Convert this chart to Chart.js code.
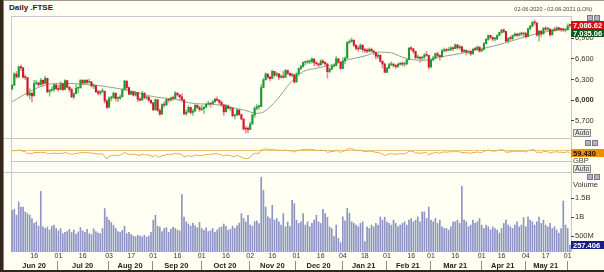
<!DOCTYPE html>
<html>
<head>
<meta charset="utf-8">
<script src="https://cdn.jsdelivr.net/npm/chart.js@4.4.0/dist/chart.umd.min.js"></script>
<style>
  body { margin: 0; background: #fffff4; }
  #wrap { position: relative; width: 604px; height: 272px; overflow: hidden; background: #fffff4; font-family: "Liberation Sans", Arial, sans-serif; }
  canvas { position: absolute; left: 0; }
  .ln { position: absolute; background: #c6c6d2; }
  .txt { position: absolute; white-space: nowrap; line-height: 1; }
  .auto { position: absolute; font-size: 7px; color: #333; border: 1px solid #8a8a8a; background: #ececec; line-height: 6px; padding: 0 1px; }
  .ico { position: absolute; width: 4px; height: 4px; background: #b4b2c0; border: 1px solid #7a7888; }
</style>
</head>
<body>
<div id="wrap">
  <div class="ln" style="left:0;top:0;width:604px;height:1px;background:#9c968c"></div>
  <div class="ln" style="left:0;top:0;width:3px;height:272px;background:#33261b"></div>
  <div class="ln" style="left:3px;top:0;width:1px;height:272px;background:#8a8580"></div>
  <div class="ln" style="left:0;top:270px;width:604px;height:2px;background:#33261b"></div>
  <div class="ln" style="left:11px;top:16px;width:560px;height:1px"></div>
  <div class="ln" style="left:11px;top:16px;width:1px;height:236px"></div>
  <div class="ln" style="left:571px;top:16px;width:1px;height:236px"></div>
  <div class="ln" style="left:4px;top:138px;width:567px;height:1px"></div>
  <div class="ln" style="left:4px;top:172px;width:567px;height:1px"></div>

  <canvas id="main" width="604" height="122" style="top:16px"></canvas>
  <canvas id="rsi" width="604" height="34" style="top:138px"></canvas>
  <canvas id="vol" width="604" height="100" style="top:172px"></canvas>

  <div class="txt" style="left:9px;top:4px;font-size:8px;font-weight:bold;color:#222">Daily .FTSE</div>
  <div class="txt" style="right:12px;top:7px;font-size:5.5px;color:#444">02-06-2020 - 02-06-2021 (LON)</div>
  <div class="ico" style="left:587px;top:15px"></div><div class="ico" style="left:594px;top:15px"></div>
  <div class="auto" style="left:573px;top:129px">Auto</div>
  <div class="ico" style="left:585px;top:140px"></div><div class="ico" style="left:592px;top:140px"></div>
  <div class="txt" style="left:573px;top:157px;font-size:7.5px;color:#444">GBP</div>
  <div class="auto" style="left:573px;top:165px">Auto</div>
  <div class="ico" style="left:587px;top:174px"></div><div class="ico" style="left:594px;top:174px"></div>
  <div class="txt" style="left:573px;top:181px;font-size:7.5px;color:#333">Volume</div>
</div>
<script>
// trading calendar (LSE)
const startDate = '2020-06-02';
const endDate = '2021-06-02';
const holidays = ['2020-08-31','2020-12-25','2020-12-28','2021-01-01','2021-04-02','2021-04-05','2021-05-03','2021-05-31'];
const monthNames = ['Jan','Feb','Mar','Apr','May','Jun','Jul','Aug','Sep','Oct','Nov','Dec'];

// daily OHLC (index points)
const opens = [
 6166,6220,6382,6341,6484,6473,6335,6329,6077,6105,6064,6243,6253,6224,6292,6245,6320,6124,6147,6159,6225,
 6170,6157,6240,6157,6286,6190,6157,6050,6095,6176,6180,6293,6250,6290,6261,6269,6207,6211,6124,6104,6129,6132,5990,
 5898,6032,6036,6104,6027,6032,6050,6154,6280,6186,6090,6127,6076,6112,6014,6002,6104,6037,6045,6000,
 5964,5862,6009,5851,5800,5937,5931,6012,6003,6032,6026,6105,6079,6050,6007,5804,5829,5899,5823,5843,5927,5897,
 5866,5880,5902,5942,5950,5946,5978,6017,6001,5970,5935,5832,5920,5884,5889,5776,5786,5860,5792,5729,5583,5582,
 5577,5655,5786,5883,5906,5910,6186,6297,6382,6339,6316,6421,6365,6385,6334,6351,6334,6433,6391,6363,6368,
 6266,6385,6463,6490,6550,6555,6559,6565,6600,6547,6531,6513,6570,6551,6529,6416,6454,6496,6502,6603,6555,
 6461,6572,6612,6842,6857,6874,6799,6755,6746,6802,6736,6720,6713,6741,6716,6696,6639,6655,6568,6527,
 6407,6467,6517,6524,6504,6489,6524,6532,6524,6528,6590,6756,6748,6711,6618,6625,6612,6626,6659,6652,
 6483,6588,6614,6676,6651,6631,6719,6730,6725,6737,6761,6750,6804,6763,6779,6709,6726,6699,6713,6674,6741,6737,6772,
 6714,6737,6823,6885,6942,6916,6890,6890,6940,6984,7020,7000,6860,6896,6895,6939,6963,6945,6964,6962,
 6970,6924,7039,7077,7130,7124,6948,7004,6963,7044,7033,7035,6950,7020,7018,7052,7030,7027,7020,
 7023,7100
];
const highs = [
 6230,6400,6420,6500,6511,6473,6370,6329,6170,6105,6290,6290,6260,6320,6292,6350,6320,6160,6200,6240,6240,
 6220,6270,6250,6300,6286,6200,6175,6110,6230,6190,6300,6293,6300,6300,6310,6269,6240,6211,6150,6140,6170,6132,6010,
 6050,6060,6120,6104,6050,6080,6170,6290,6280,6190,6140,6130,6130,6112,6040,6130,6110,6070,6070,6010,
 5970,6020,6010,5880,5950,5980,6030,6030,6050,6060,6130,6110,6079,6090,6007,5860,5920,5899,5870,5950,5940,5920,
 5930,5910,5960,5990,5960,6000,6030,6050,6010,5990,5935,5940,5930,5910,5889,5800,5880,5860,5800,5729,5620,5620,
 5690,5800,5910,5940,5930,6230,6320,6400,6382,6345,6440,6421,6410,6385,6370,6420,6450,6440,6400,6390,6380,
 6400,6470,6510,6560,6570,6580,6590,6620,6600,6560,6540,6590,6590,6560,6529,6470,6510,6530,6640,6610,6560,
 6620,6630,6850,6880,6905,6874,6810,6790,6820,6802,6760,6750,6760,6760,6730,6700,6680,6655,6570,6540,
 6480,6540,6560,6540,6520,6540,6550,6560,6550,6600,6770,6780,6750,6711,6660,6630,6640,6680,6710,6652,
 6600,6640,6690,6700,6660,6740,6760,6750,6770,6780,6770,6820,6810,6800,6779,6740,6730,6720,6713,6750,6770,6790,6780,
 6760,6840,6900,6950,6942,6916,6910,6950,6990,7030,7040,7000,6910,6930,6950,6980,6970,6980,6990,6990,
 6990,7050,7090,7150,7165,7124,7020,7010,7060,7070,7060,7035,7030,7060,7070,7060,7050,7050,7040,
 7110,7110
];
const lows = [
 6150,6215,6320,6330,6430,6320,6300,6060,6020,5977,6064,6230,6190,6224,6200,6245,6110,6060,6130,6130,6150,
 6130,6157,6140,6157,6180,6120,6040,6020,6095,6110,6180,6220,6240,6230,6250,6190,6170,6110,6080,6080,6110,5960,5880,
 5898,5990,6030,5990,5980,6010,6050,6150,6160,6080,6080,6060,6060,5980,5990,6002,6020,6010,5980,5950,
 5850,5862,5840,5780,5800,5900,5931,5970,5990,6000,6026,6060,6000,5990,5790,5780,5829,5800,5780,5843,5880,5840,
 5850,5810,5890,5930,5900,5946,5970,5990,5940,5910,5780,5832,5870,5850,5760,5730,5786,5780,5720,5570,5526,5526,
 5577,5655,5750,5860,5870,5910,6186,6297,6310,6280,6316,6340,6350,6300,6320,6320,6334,6370,6350,6340,6250,
 6266,6360,6440,6480,6510,6530,6530,6540,6500,6510,6480,6513,6530,6490,6320,6400,6440,6480,6502,6540,6450,
 6461,6530,6612,6820,6840,6780,6730,6710,6740,6700,6690,6690,6700,6700,6660,6600,6610,6550,6470,6400,
 6400,6460,6500,6480,6460,6480,6510,6500,6490,6520,6590,6720,6680,6600,6600,6550,6570,6600,6640,6455,
 6483,6570,6600,6630,6580,6631,6700,6700,6720,6720,6720,6750,6740,6740,6690,6690,6660,6680,6650,6674,6720,6737,6700,
 6714,6737,6823,6870,6890,6860,6860,6880,6940,6970,6980,6850,6830,6870,6880,6930,6920,6930,6940,6920,
 6900,6924,7020,7070,7100,6930,6860,6920,6963,7010,7000,6930,6950,7000,7010,7010,7000,7000,6990,
 7023,7060
];
const closes = [
 6220,6382,6341,6484,6473,6335,6329,6077,6105,6064,6243,6253,6224,6292,6245,6320,6124,6147,6159,6225,6170,
 6157,6240,6157,6286,6190,6157,6050,6095,6176,6180,6293,6250,6290,6261,6269,6207,6211,6124,6104,6129,6132,5990,5898,
 6032,6036,6104,6027,6032,6050,6154,6280,6186,6090,6127,6076,6112,6014,6002,6104,6037,6045,6000,5964,
 5862,6009,5851,5800,5937,5931,6012,6003,6032,6026,6105,6079,6050,6007,5804,5829,5899,5823,5843,5927,5897,5866,
 5880,5902,5942,5950,5946,5978,6017,6001,5970,5935,5832,5920,5884,5889,5776,5786,5860,5792,5729,5583,5582,5577,
 5655,5786,5883,5906,5910,6186,6297,6382,6339,6316,6421,6365,6385,6334,6351,6334,6433,6391,6363,6368,6266,
 6385,6463,6490,6550,6555,6559,6565,6600,6547,6531,6513,6570,6551,6529,6416,6454,6496,6502,6603,6555,6461,
 6572,6612,6842,6857,6874,6799,6755,6746,6802,6736,6720,6713,6741,6716,6696,6639,6655,6568,6527,6407,
 6467,6517,6524,6504,6489,6524,6532,6524,6528,6590,6756,6748,6711,6618,6625,6612,6626,6659,6652,6483,
 6588,6614,6676,6651,6631,6719,6730,6725,6737,6761,6750,6804,6763,6779,6709,6726,6699,6713,6674,6741,6737,6772,6714,
 6737,6823,6885,6942,6916,6890,6890,6940,6984,7020,7000,6860,6896,6895,6939,6963,6945,6964,6962,6970,
 6924,7039,7077,7130,7124,6948,7004,6963,7044,7033,7035,6950,7020,7018,7052,7030,7027,7020,7023,
 7080,7086.62
];

// moving average at these day indexes
const maIdx = [0,10,15,21,31,37,43,50,58,64,74,80,86,90,99,105,111,114,120,126,132,138,146,152,160,166,172,177,186,195,204,214,222,234,240,246,253];
const maVal = [5980,6160,6222,6247,6237,6222,6198,6160,6102,6053,6015,5966,5947,5945,5899,5860,5812,5830,6005,6247,6416,6465,6523,6586,6644,6700,6690,6625,6580,6634,6683,6755,6818,6934,6982,7011,7035.06];

// oscillator panel
const rsi = [
 67,69,68,70,69,65,64,57,58,56,61,61,60,62,60,62,56,57,57,59,57,
 57,59,57,61,58,57,54,55,58,58,61,60,61,60,60,58,58,56,55,56,56,45,36,
 47,48,52,49,50,51,56,61,57,53,55,53,55,50,50,55,52,53,51,49,
 45,52,45,43,50,50,54,53,55,54,58,56,55,53,44,46,50,46,47,52,50,49,
 50,51,53,54,53,55,57,56,54,52,47,52,50,50,45,46,50,47,44,38,38,38,
 44,52,57,58,58,70,73,75,72,71,74,70,71,68,69,68,71,68,67,67,62,
 67,69,70,72,72,72,72,73,70,69,68,70,69,68,61,63,65,65,69,66,61,
 66,67,74,75,75,71,69,68,70,66,65,65,66,65,64,61,62,57,55,49,
 53,56,56,55,54,56,56,56,56,59,66,66,64,59,59,58,59,61,60,51,
 57,58,61,60,58,62,63,62,63,64,63,66,63,64,60,61,59,60,58,61,61,63,60,
 61,65,68,70,68,66,66,68,70,72,70,61,63,63,65,66,65,66,65,66,
 62,68,69,72,71,60,63,60,65,64,64,58,62,62,64,62,62,61,61,
 64,59.43
];
const rsiLevels = [70, 30];

// volume, millions of shares
const volumes = [
 1184,1210,1052,1402,1270,1270,1139,1097,1052,965,834,876,760,1683,745,700,740,660,760,790,700,
 640,700,560,600,620,680,590,660,550,610,720,640,600,680,560,540,690,620,580,560,700,1228,1000,
 920,860,780,700,620,600,650,760,560,600,540,500,480,520,500,480,520,470,500,600,
 921,1052,760,740,620,700,720,600,680,740,700,660,640,1597,1000,880,820,760,840,780,720,860,
 700,650,720,620,640,700,600,660,720,740,820,760,650,680,760,700,780,840,1097,965,876,1050,
 790,760,880,900,830,2060,1710,1270,1007,965,1315,921,965,876,790,1097,745,870,760,1447,1360,
 921,834,876,1097,790,876,745,834,921,1050,876,834,1210,1097,1000,745,700,483,790,440,325,
 1007,900,1237,1105,876,834,790,745,834,876,350,745,700,790,745,834,790,1007,921,1000,
 876,834,790,921,834,745,790,834,876,790,921,965,876,921,1007,876,1139,1139,965,1270,
 921,876,965,834,921,745,700,700,660,745,876,876,921,834,1815,921,876,745,790,921,834,876,965,
 790,700,790,745,660,745,700,660,580,700,834,921,790,745,700,790,876,745,790,990,
 745,1007,921,876,790,876,1000,834,921,790,745,834,700,745,660,580,700,1430,790,
 701,257.406
];

const priceTicks = [5700, 6000, 6300, 6600, 6900];
const volumeTicks = [500, 1000, 1500];

// build the trading-day categories
const dates = [];
for (let d = new Date(startDate + 'T00:00:00Z'); d <= new Date(endDate + 'T00:00:00Z'); d.setUTCDate(d.getUTCDate() + 1)) {
  const wd = d.getUTCDay();
  const s = d.toISOString().slice(0, 10);
  if (wd !== 0 && wd !== 6 && !holidays.includes(s)) dates.push(s);
}
if (dates.length !== closes.length) console.error('length mismatch', dates.length, closes.length);

// day labels: first trading day of month and first on/after the 16th
const dayLabels = dates.map((s, i) => {
  if (i === 0) return '';
  const p = dates[i - 1];
  const day = +s.slice(8, 10);
  if (s.slice(0, 7) !== p.slice(0, 7)) return s.slice(8, 10);
  if (day >= 16 && +p.slice(8, 10) < 16) return s.slice(8, 10);
  return '';
});
const months = [];
dates.forEach((s, i) => {
  const key = s.slice(0, 7);
  if (!months.length || months[months.length - 1].key !== key) months.push({ key: key, first: i, last: i });
  else months[months.length - 1].last = i;
});

const FONT = '"Liberation Sans", Arial, sans-serif';
const upBody = '#1f9a2a', downBody = '#d2142c';
const upWick = '#86c48a', downWick = '#e8909c';
const isUp = closes.map((c, i) => c >= opens[i]);

const baseOpts = {
  responsive: false,
  animation: false,
  events: [],
  plugins: { legend: { display: false }, tooltip: { enabled: false } }
};

// no label overhang padding, so the plot fills its panel exactly
const noPad = s => { s.paddingTop = 0; s.paddingBottom = 0; s.paddingLeft = 0; s.paddingRight = 0; };

const rightAxis = (min, max, ticks, fmt) => ({
  position: 'right',
  min: min, max: max,
  afterBuildTicks: s => { s.ticks = ticks.map(v => ({ value: v })); },
  afterFit: s => { s.width = 33; noPad(s); },
  grid: { drawOnChartArea: false, tickLength: 3, color: '#444' },
  border: { display: false },
  ticks: {
    padding: 1, color: '#333',
    font: c => ({ family: FONT, size: 7.5, weight: (c.tick && c.tick.value === 6000) ? 'bold' : 'normal' }),
    callback: fmt
  }
});

function valueBox(ctx, y, text, bg, fg) {
  ctx.save();
  ctx.fillStyle = bg;
  ctx.fillRect(571, Math.round(y - 4), 33, 8);
  ctx.fillStyle = fg;
  ctx.font = 'bold 7.5px ' + FONT;
  ctx.textAlign = 'left';
  ctx.textBaseline = 'middle';
  ctx.fillText(text, 573, Math.round(y - 4) + 4.5);
  ctx.restore();
}

// price chart
const priceBoxes = {
  id: 'priceBoxes',
  afterDraw(chart) {
    const y = chart.scales.y;
    const last = closes[closes.length - 1];
    const ry = y.getPixelForValue(last);
    const gy = Math.max(y.getPixelForValue(maVal[maVal.length - 1]), ry + 8);
    chart.ctx.clearRect(571, ry - 4, 33, 16);
    valueBox(chart.ctx, ry, last.toLocaleString('en-US', { minimumFractionDigits: 2 }), '#d80f14', '#fff');
    valueBox(chart.ctx, gy, maVal[maVal.length - 1].toLocaleString('en-US', { minimumFractionDigits: 2 }), '#0c5a1c', '#fff');
  }
};

new Chart(document.getElementById('main'), {
  type: 'bar',
  data: {
    labels: dates,
    datasets: [
      { type: 'line', data: maIdx.map((k, j) => ({ x: dates[k], y: maVal[j] })), borderColor: '#8aa68a', borderWidth: 1, pointRadius: 0, cubicInterpolationMode: 'monotone', order: 3 },
      { data: lows.map((l, i) => [l, highs[i]]), backgroundColor: isUp.map(u => u ? upWick : downWick), barThickness: 1, grouped: false, order: 2 },
      { data: opens.map((o, i) => [o, closes[i]]), backgroundColor: isUp.map(u => u ? upBody : downBody), barThickness: 1.4, minBarLength: 1, grouped: false, order: 1 }
    ]
  },
  options: Object.assign({}, baseOpts, {
    layout: { padding: { left: 11, right: 0, top: 0, bottom: 0 }, autoPadding: false },
    scales: {
      x: { display: false, offset: true },
      y: rightAxis(5453, 7224, priceTicks, v => v.toLocaleString('en-US'))
    }
  }),
  plugins: [priceBoxes]
});

// oscillator chart
const rsiDeco = {
  id: 'rsiDeco',
  beforeDatasetsDraw(chart) {
    const { ctx, chartArea } = chart;
    const y = chart.scales.y;
    ctx.save();
    ctx.strokeStyle = '#efc57a';
    ctx.lineWidth = 1;
    rsiLevels.forEach(v => {
      const py = Math.round(y.getPixelForValue(v)) + 0.5;
      ctx.beginPath(); ctx.moveTo(chartArea.left, py); ctx.lineTo(chartArea.right, py); ctx.stroke();
    });
    ctx.restore();
  },
  afterDraw(chart) {
    const v = rsi[rsi.length - 1];
    valueBox(chart.ctx, chart.scales.y.getPixelForValue(v), v.toFixed(3), '#f08c00', '#111');
  }
};

new Chart(document.getElementById('rsi'), {
  type: 'line',
  data: { labels: dates, datasets: [{ data: rsi, borderColor: '#d6ae5c', borderWidth: 1, pointRadius: 0, tension: 0 }] },
  options: Object.assign({}, baseOpts, {
    layout: { padding: { left: 11, right: 33, top: 0, bottom: 0 }, autoPadding: false },
    scales: {
      x: { display: false, offset: true },
      y: { display: false, min: -12, max: 115 }
    }
  }),
  plugins: [rsiDeco]
});

// volume chart with the date axis
const dateRow = {
  id: 'dateRow',
  afterDraw(chart) {
    const { ctx, chartArea } = chart;
    const x = chart.scales.x;
    ctx.save();
    ctx.strokeStyle = '#8c8c8c';
    ctx.lineWidth = 1;
    ctx.fillStyle = '#222';
    ctx.font = 'bold 7.5px ' + FONT;
    ctx.textAlign = 'center';
    ctx.textBaseline = 'middle';
    months.forEach(m => {
      if (m.first > 0) {
        const px = Math.round((x.getPixelForValue(m.first - 1) + x.getPixelForValue(m.first)) / 2) + 0.5;
        ctx.beginPath(); ctx.moveTo(px, chartArea.bottom + 9); ctx.lineTo(px, chartArea.bottom + 18); ctx.stroke();
      }
      if (m.last - m.first >= 5) {
        const cx = (x.getPixelForValue(m.first) + x.getPixelForValue(m.last)) / 2;
        ctx.fillText(monthNames[+m.key.slice(5, 7) - 1] + ' ' + m.key.slice(2, 4), cx, chartArea.bottom + 13.5);
      }
    });
    ctx.restore();
    const v = volumes[volumes.length - 1];
    valueBox(ctx, chart.scales.y.getPixelForValue(v), v.toFixed(3), '#1c1c86', '#fff');
  }
};

new Chart(document.getElementById('vol'), {
  type: 'bar',
  data: { labels: dates, datasets: [{ data: volumes, backgroundColor: '#8e94c4', barThickness: 1 }] },
  options: Object.assign({}, baseOpts, {
    layout: { padding: { left: 11, right: 0, top: 0, bottom: 0 }, autoPadding: false },
    scales: {
      x: {
        offset: true,
        grid: { display: false, drawTicks: false },
        border: { display: false },
        afterFit: s => { s.height = 20; noPad(s); },
        ticks: { autoSkip: false, maxRotation: 0, minRotation: 0, padding: 0, color: '#333', font: { family: FONT, size: 7 }, callback: (v, i) => dayLabels[i] }
      },
      y: rightAxis(76, 2198, volumeTicks, v => v >= 1000 ? (v / 1000) + 'B' : v + 'M')
    }
  }),
  plugins: [dateRow]
});
</script>
</body>
</html>
